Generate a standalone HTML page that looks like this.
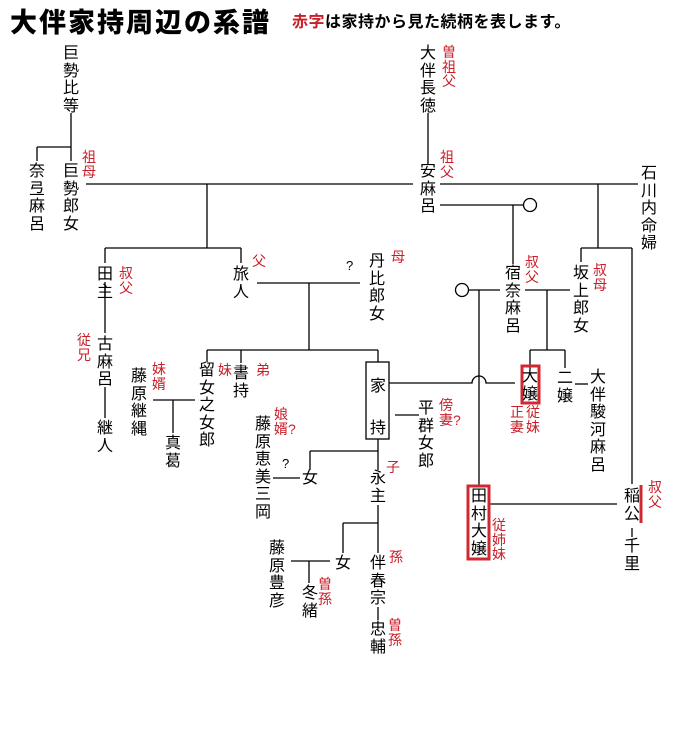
<!DOCTYPE html>
<html><head><meta charset="utf-8"><style>
body{margin:0;width:691px;height:731px;background:#fff;position:relative;overflow:hidden;font-family:"Liberation Sans","Noto Sans CJK JP",sans-serif}
.v{position:absolute;width:18px;font-size:16px;line-height:17.5px;text-align:center;word-break:break-all;color:#000}
.r{position:absolute;width:14px;font-size:14px;line-height:14.5px;text-align:center;word-break:break-all;color:#c8202a}
svg{position:absolute;left:0;top:0}
</style></head><body>
<svg width="691" height="731" fill="none" stroke="#000" stroke-width="1.3">
<path d="M71 113V147M37 147H71M37 147V161M71 147V161"/>
<path d="M86 184H413M440 184H638"/>
<path d="M207 184V248M105 248H241M105 248V263M241 248V263"/>
<path d="M428 113V163"/>
<path d="M440 205H523"/><circle cx="530" cy="205" r="6.5"/>
<path d="M513 205V264"/>
<path d="M598 184V248M581 248H632M581 248V262M632 248V484"/>
<path d="M257 283H360M309 283V350"/>
<circle cx="462" cy="290" r="6.5"/>
<path d="M469 290H500M525 290H570M479 290V485M547 290V350"/>
<path d="M530 350H565M530 350V365M565 350V368"/>
<path d="M575 384H588"/>
<path d="M207 350H378M207 350V362M241 350V363M378 350V362"/>
<rect x="366" y="362" width="23" height="77"/>
<path d="M389 383H472A7 7 0 0 1 486 383H515"/>
<path d="M395 415H419"/>
<path d="M378 439V470"/>
<path d="M310 451H378M310 451V470M273 478H300"/>
<path d="M105 282V333M105 387V418"/>
<path d="M153 400H195M173 400V433"/>
<path d="M378 505V553M343 523H378M343 523V553"/>
<path d="M291 561H330M309 561V583"/>
<path d="M378 607V620"/>
<path d="M490 504H617M632 528V537"/>
</svg>
<svg width="691" height="731" fill="none" stroke="#d02830" stroke-width="3">
<rect x="522" y="366" width="17" height="37"/>
<rect x="468" y="486" width="21" height="73"/>
<path d="M641 485V523"/>
</svg>
<div style="position:absolute;left:10px;top:7px;font-size:27px;font-weight:900;letter-spacing:2px;line-height:32px">大伴家持周辺の系譜</div>
<div style="position:absolute;left:292px;top:13px;font-size:16px;font-weight:bold;letter-spacing:0.5px;line-height:20px"><span style="color:#c8202a">赤字</span>は家持から見た続柄を表します。</div>

<div class="v" style="left:62px;top:45px">巨勢比等</div>
<div class="v" style="left:28px;top:163px">奈弖麻呂</div>
<div class="v" style="left:62px;top:163px">巨勢郎女</div>
<div class="r" style="left:82px;top:150px">祖母</div>
<div class="v" style="left:96px;top:266px">田主</div>
<div class="r" style="left:119px;top:266px">叔父</div>
<div class="v" style="left:232px;top:266px">旅人</div>
<div class="r" style="left:252px;top:254px">父</div>
<div class="v" style="left:419px;top:45px">大伴長徳</div>
<div class="r" style="left:442px;top:45px">曽祖父</div>
<div class="v" style="left:419px;top:163px">安麻呂</div>
<div class="r" style="left:440px;top:150px">祖父</div>
<div class="v" style="left:640px;top:165px">石川内命婦</div>
<div class="v" style="left:504px;top:265px">宿奈麻呂</div>
<div class="r" style="left:525px;top:255px">叔父</div>
<div class="v" style="left:572px;top:265px">坂上郎女</div>
<div class="r" style="left:593px;top:263px">叔母</div>
<div class="v" style="left:368px;top:253px">丹比郎女</div>
<div class="r" style="left:391px;top:250px">母</div>
<div style="position:absolute;left:346px;top:258px;font-size:13px">?</div>
<div class="v" style="left:96px;top:336px">古麻呂</div>
<div class="r" style="left:77px;top:333px">従兄</div>
<div class="v" style="left:96px;top:420px">継人</div>
<div class="v" style="left:130px;top:368px">藤原継縄</div>
<div class="r" style="left:152px;top:362px">妹婿</div>
<div class="v" style="left:164px;top:435px">真葛</div>
<div class="v" style="left:198px;top:362px">留女之女郎</div>
<div class="r" style="left:218px;top:363px">妹</div>
<div class="v" style="left:232px;top:365px">書持</div>
<div class="r" style="left:256px;top:363px">弟</div>
<div class="v" style="left:369px;top:366px;line-height:42px">家持</div>
<div class="v" style="left:521px;top:368px">大嬢</div>
<div class="r" style="left:510px;top:405px">正妻</div>
<div class="r" style="left:526px;top:405px">従妹</div>
<div class="v" style="left:556px;top:370px">二嬢</div>
<div class="v" style="left:589px;top:369px">大伴駿河麻呂</div>
<div class="v" style="left:417px;top:400px">平群女郎</div>
<div class="r" style="left:439px;top:398px">傍妻?</div>
<div class="v" style="left:254px;top:416px">藤原恵美三岡</div>
<div class="r" style="left:274px;top:407px">娘婿?</div>
<div style="position:absolute;left:282px;top:456px;font-size:13px">?</div>
<div class="v" style="left:301px;top:470px">女</div>
<div class="r" style="left:386px;top:460px">子</div>
<div class="v" style="left:369px;top:470px">永主</div>
<div class="v" style="left:470px;top:488px">田村大嬢</div>
<div class="r" style="left:492px;top:518px">従姉妹</div>
<div class="v" style="left:623px;top:488px">稲公</div>
<div class="r" style="left:648px;top:480px">叔父</div>
<div class="v" style="left:623px;top:538px">千里</div>
<div class="v" style="left:268px;top:540px">藤原豊彦</div>
<div class="v" style="left:334px;top:555px">女</div>
<div class="v" style="left:369px;top:555px">伴春宗</div>
<div class="r" style="left:389px;top:550px">孫</div>
<div class="v" style="left:301px;top:585px">冬緒</div>
<div class="r" style="left:318px;top:577px">曽孫</div>
<div class="v" style="left:369px;top:621px">忠輔</div>
<div class="r" style="left:388px;top:618px">曽孫</div>
</body></html>
